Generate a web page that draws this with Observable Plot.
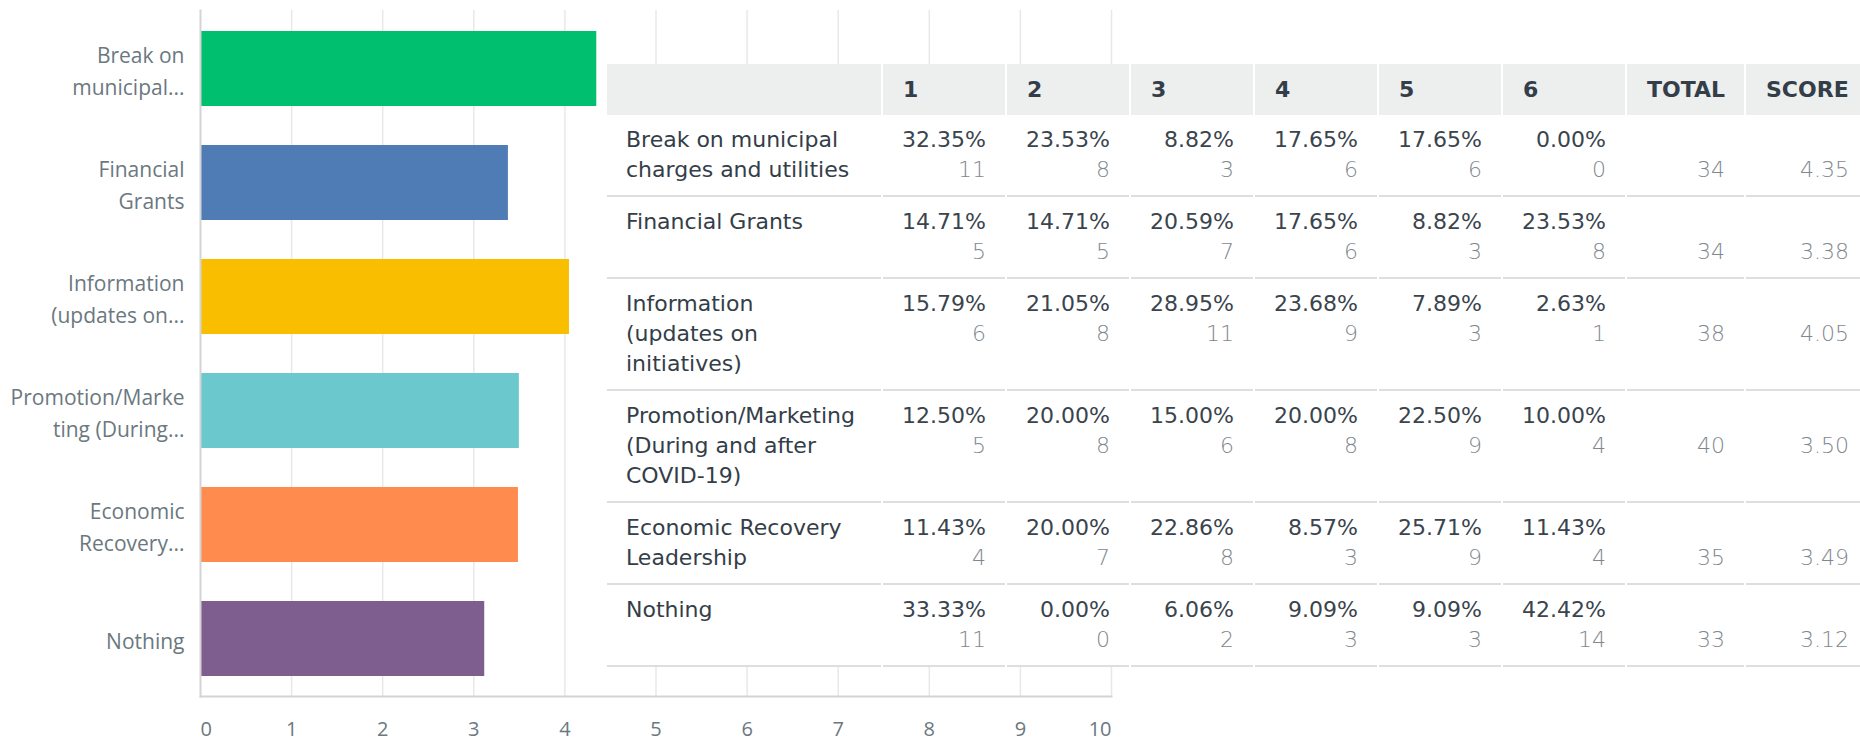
<!DOCTYPE html>
<html>
<head>
<meta charset="utf-8">
<script src="https://cdn.jsdelivr.net/npm/d3@7"></script>
<script src="https://cdn.jsdelivr.net/npm/@observablehq/plot@0.6"></script>
<style>
  html, body { margin: 0; padding: 0; background: #fff; }
  #wrap { position: relative; width: 1860px; height: 742px; overflow: hidden; background: #fff; }
  #chart { position: absolute; left: 0; top: 0; }
  #tbl {
    position: absolute; left: 605px; top: 64px;
    border-collapse: separate; border-spacing: 2px 0;
    background: #fff; table-layout: fixed;
    font-family: "DejaVu Sans", sans-serif; font-size: 22px; color: #333e48;
  }
  #tbl th {
    box-sizing: border-box; height: 51px; background: #edeeee;
    text-align: left; padding: 0 0 0 20px; font-weight: bold; color: #333e48;
    vertical-align: middle; font-size: 22px;
  }
  #tbl td {
    box-sizing: border-box; padding: 10px 19px 10px 19px; line-height: 30px;
    border-bottom: 2px solid #dcdedf; vertical-align: top; white-space: nowrap;
  }
  #tbl td.num { text-align: right; }
  #tbl .pct { color: #3a444d; }
  #tbl .cnt { color: #7f888f; font-weight: 200; }
</style>
</head>
<body>
<div id="wrap">
  <div id="chart"></div>
  <table id="tbl"></table>
</div>
<script>
// ---- data ----
const categories = [
  "Break on municipal charges and utilities",
  "Financial Grants",
  "Information (updates on initiatives)",
  "Promotion/Marketing (During and after COVID-19)",
  "Economic Recovery Leadership",
  "Nothing"
];
const axisLabels = [
  "Break on\nmunicipal...",
  "Financial\nGrants",
  "Information\n(updates on...",
  "Promotion/Marke\nting (During...",
  "Economic\nRecovery...",
  "Nothing"
];
const tableLabels = [
  ["Break on municipal", "charges and utilities"],
  ["Financial Grants"],
  ["Information", "(updates on", "initiatives)"],
  ["Promotion/Marketing", "(During and after", "COVID-19)"],
  ["Economic Recovery", "Leadership"],
  ["Nothing"]
];
const scores = [4.35, 3.38, 4.05, 3.50, 3.49, 3.12];
const totals = [34, 34, 38, 40, 35, 33];
const percents = [
  ["32.35%", "23.53%", "8.82%", "17.65%", "17.65%", "0.00%"],
  ["14.71%", "14.71%", "20.59%", "17.65%", "8.82%", "23.53%"],
  ["15.79%", "21.05%", "28.95%", "23.68%", "7.89%", "2.63%"],
  ["12.50%", "20.00%", "15.00%", "20.00%", "22.50%", "10.00%"],
  ["11.43%", "20.00%", "22.86%", "8.57%", "25.71%", "11.43%"],
  ["33.33%", "0.00%", "6.06%", "9.09%", "9.09%", "42.42%"]
];
const counts = [
  [11, 8, 3, 6, 6, 0],
  [5, 5, 7, 6, 3, 8],
  [6, 8, 11, 9, 3, 1],
  [5, 8, 6, 8, 9, 4],
  [4, 7, 8, 3, 9, 4],
  [11, 0, 2, 3, 3, 14]
];
const scoreLabels = ["4.35", "3.38", "4.05", "3.50", "3.49", "3.12"];
const headers = ["", "1", "2", "3", "4", "5", "6", "TOTAL", "SCORE"];
const barColors = ["#00bf6f", "#507cb6", "#f9be00", "#6bc8cd", "#ff8b4f", "#7d5e8e"];
const xTicks = [0, 1, 2, 3, 4, 5, 6, 7, 8, 9, 10];

// ---- chart ----
const bars = categories.map((c, i) => ({cat: c, score: scores[i]}));
const tickStyle = {tickSize: 0, tickPadding: 25, label: null, fill: "#6b7880", fontSize: 20};
const chart = Plot.plot({
  width: 1860,
  height: 742,
  marginLeft: 200,
  marginRight: 749,
  marginTop: 10,
  marginBottom: 46,
  style: {fontFamily: "'Open Sans', sans-serif", fontSize: "20px", color: "#6b7880", background: "#fff"},
  x: {domain: [0, 10]},
  y: {domain: categories, paddingInner: 0.344, paddingOuter: 0.175},
  color: {domain: categories, range: barColors},
  marks: [
    Plot.gridX(xTicks.slice(1), {stroke: "#e8e8e8", strokeOpacity: 1, strokeWidth: 1.5}),
    Plot.barX(bars, {x: "score", y: "cat", fill: "cat"}),
    Plot.frame({anchor: "left", stroke: "#d4d4d4", strokeWidth: 2}),
    Plot.frame({anchor: "bottom", stroke: "#d4d4d4", strokeWidth: 2}),
    Plot.axisX({...tickStyle, ticks: xTicks.slice(1, -1)}),
    Plot.axisX({...tickStyle, ticks: xTicks.slice(0, 1), textAnchor: "start"}),
    Plot.axisX({...tickStyle, ticks: xTicks.slice(-1), textAnchor: "end"}),
    Plot.axisY({tickSize: 0, tickPadding: 16, label: null, fill: "#6b7880", fontSize: 21, lineHeight: 1.5,
      tickFormat: d => axisLabels[categories.indexOf(d)]})
  ]
});
document.getElementById("chart").appendChild(chart);

// ---- table ----
const widths = [274, 122, 122, 122, 122, 122, 122, 117, 122];
const tbl = d3.select("#tbl");
tbl.style("width", (d3.sum(widths) + 2 * (widths.length + 1)) + "px");
const hr = tbl.append("thead").append("tr");
headers.forEach((h, i) => hr.append("th").style("width", widths[i] + "px").text(h));
const tb = tbl.append("tbody");
categories.forEach((c, r) => {
  const tr = tb.append("tr");
  tr.append("td").html(tableLabels[r].join("<br>"));
  for (let k = 0; k < 6; k++) {
    const td = tr.append("td").attr("class", "num");
    td.append("div").attr("class", "pct").text(percents[r][k]);
    td.append("div").attr("class", "cnt").text(counts[r][k]);
  }
  const tt = tr.append("td").attr("class", "num");
  tt.append("div").html("&nbsp;");
  tt.append("div").attr("class", "cnt").text(totals[r]);
  const ts = tr.append("td").attr("class", "num");
  ts.append("div").html("&nbsp;");
  ts.append("div").attr("class", "cnt").text(scoreLabels[r]);
});
</script>
</body>
</html>
